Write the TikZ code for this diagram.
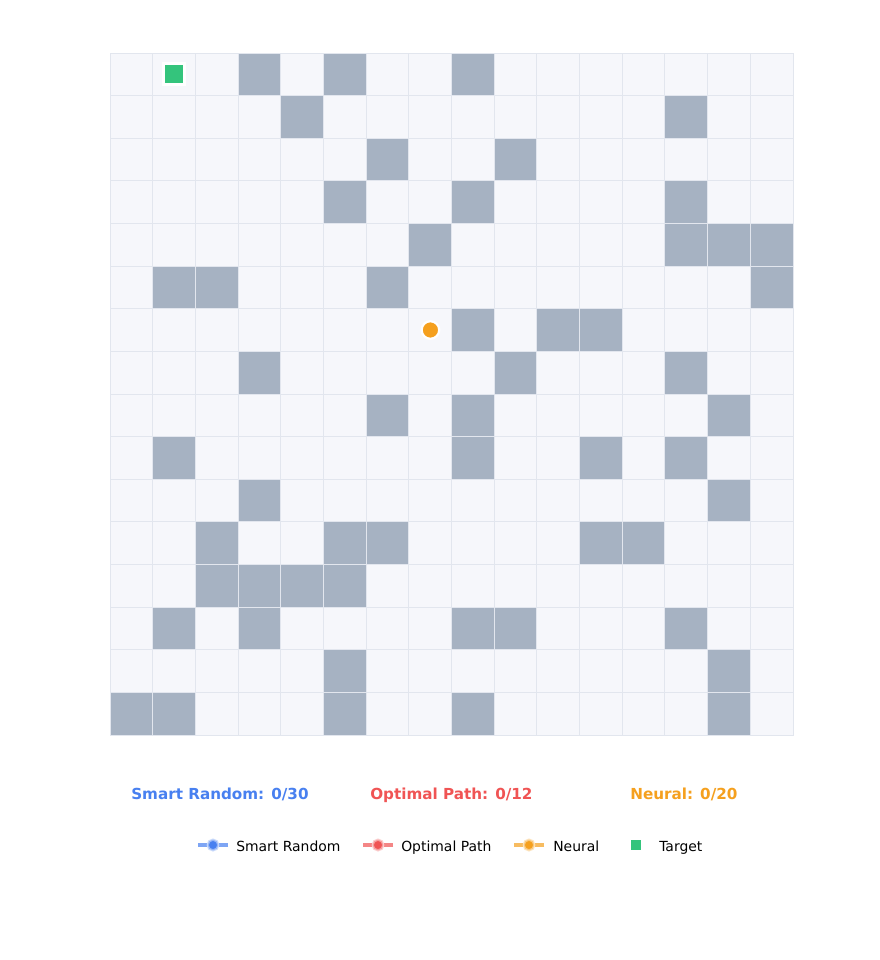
\documentclass[tikz,border=0pt]{standalone}
\usepackage{fontspec}
\setmainfont{DejaVu Sans}
\usetikzlibrary{positioning}

\definecolor{cellbg}{RGB}{246,247,251}
\definecolor{cellline}{RGB}{226,230,238}
\definecolor{wallgray}{RGB}{166,178,194}
\definecolor{srblue}{RGB}{72,128,240}
\definecolor{optred}{RGB}{240,84,84}
\definecolor{neuralorange}{RGB}{245,160,30}
\definecolor{targetgreen}{RGB}{52,196,124}

\tikzset{
  cellbox/.style={draw=cellline,line width=0.7pt},
  score/.style={anchor=west,font=\bfseries\fontsize{10.8}{13}\selectfont,inner sep=0pt,text height=1.6ex,text depth=0.35ex},
  legtext/.style={anchor=west,font=\fontsize{9.9}{12}\selectfont,inner sep=0pt,text height=1.6ex,text depth=0.35ex},
  legline/.style={line width=2.9pt,draw=#1,draw opacity=0.7},
  legdot/.style={circle,fill=#1,draw=#1!40,draw opacity=0.7,line width=1.6pt,inner sep=0pt,minimum size=7.6pt},
}

% one cell of the 16x16 maze, column #1, row #2
\NewDocumentCommand{\gridcell}{mmO{cellbg}}{%
\begin{scope}[shift={(110+42.6875*#1,53+42.625*#2)}]%
\draw[cellbox,fill=#3] (0,0) rectangle (42.6875,42.625);
\end{scope}%
}

\begin{document}
\begin{tikzpicture}[x=0.025cm,y=-0.025cm]
            \useasboundingbox[fill=white] (0,0) rectangle (880,960);

            % Free cells.
            \foreach \c in {0,...,15} {
                \foreach \r in {0,...,15} {\gridcell{\c}{\r}}
            }
            % Walls.
            \foreach \c/\r in {3/0,5/0,8/0,4/1,13/1,6/2,9/2,5/3,8/3,13/3,
                7/4,13/4,14/4,15/4,1/5,2/5,6/5,15/5,8/6,10/6,11/6,
                3/7,9/7,13/7,6/8,8/8,14/8,1/9,8/9,11/9,13/9,3/10,14/10,
                2/11,5/11,6/11,11/11,12/11,2/12,3/12,4/12,5/12,
                1/13,3/13,8/13,9/13,13/13,5/14,14/14,0/15,1/15,5/15,8/15,14/15}
                {\gridcell{\c}{\r}[wallgray]}

            % Target and neural agent.
            \node[fill=targetgreen,draw=white,line width=2.2pt,minimum size=0.52cm,inner sep=0pt] (target) at (174.3,74.3) {};
            \node[circle,fill=neuralorange,draw=white,line width=1.6pt,minimum size=0.44cm,inner sep=0pt] (neural) at (430.4,330) {};

            % Scores.
            \node[score,text=srblue] (srscore) at (131,795) {Smart Random: 0/30};
            \node[score,text=optred] (optscore) at (370,795) {Optimal Path: 0/12};
            \node[score,text=neuralorange] (nnscore) at (630,795) {Neural: 0/20};

            % Legend.
            \coordinate (srA) at (198,845); \coordinate (srB) at (228,845);
            \draw[legline=srblue] (srA) -- ++(9,0) (srB) -- ++(-9,0);
            \node[legdot=srblue] (srdot) at (213,845) {};
            \node[legtext] (srlabel) at (236,846.5) {Smart Random};

            \coordinate (opA) at (363,845); \coordinate (opB) at (393,845);
            \draw[legline=optred] (opA) -- ++(9,0) (opB) -- ++(-9,0);
            \node[legdot=optred] (opdot) at (378,845) {};
            \node[legtext] (oplabel) at (401,846.5) {Optimal Path};

            \coordinate (nnA) at (514,845); \coordinate (nnB) at (544,845);
            \draw[legline=neuralorange] (nnA) -- ++(9,0) (nnB) -- ++(-9,0);
            \node[legdot=neuralorange] (nndot) at (529,845) {};
            \node[legtext] (nnlabel) at (553,846.5) {Neural};

            \node[fill=targetgreen,minimum size=0.23cm,inner sep=0pt] (tgmark) at (636,845) {};
            \node[legtext] (tglabel) at (659,846.5) {Target};
        \end{tikzpicture}
\end{document}
